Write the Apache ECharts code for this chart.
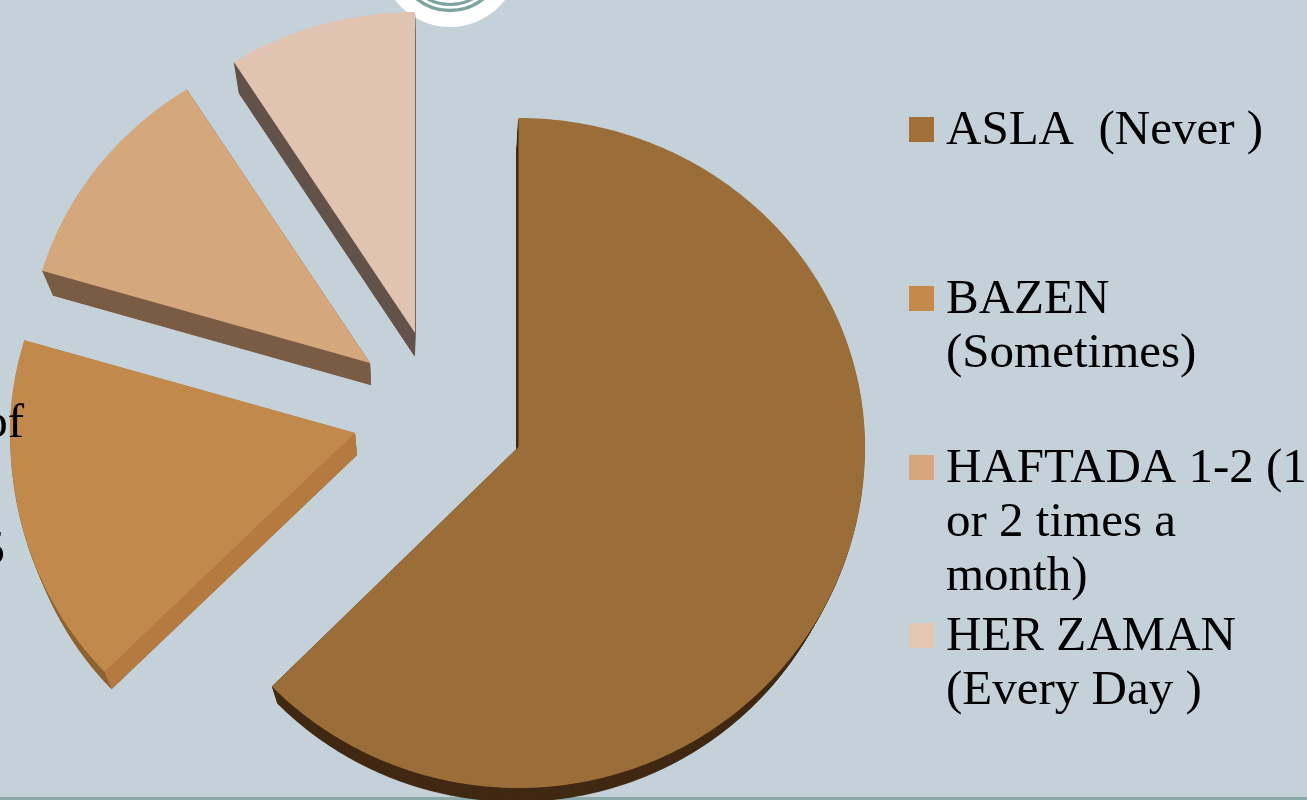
<!DOCTYPE html>
<html>
<head>
<meta charset="utf-8">
<style>html,body{margin:0;padding:0;background:#c5d1d8;overflow:hidden}#c{width:1307px;height:800px}</style>
<script src="https://cdn.jsdelivr.net/npm/echarts@6/dist/echarts.min.js"></script>
</head>
<body>
<div id="c"></div>
<script>
const categories = ['ASLA  (Never )', 'BAZEN\n(Sometimes)', 'HAFTADA 1-2 (1\nor 2 times a\nmonth)', 'HER ZAMAN\n(Every Day )'];
const values = [62.6, 17, 11.4, 9];
const faceColors = ['#9b6d38', '#c1894b', '#d5a77d', '#e0c3b0'];
const sideColors = ['#412a14', '#b57a40', '#7a5b43', '#63524a'];
const rimColors = ['#412a14', '#8f6230', '#7a5b43', '#63524a'];
const swatchColors = ['#a36f38', '#c58a4a', '#d6a67c', '#e2c5b2'];
// exploded 3D layout: apex, radii (x, up, down, x toward lower rim), extrusion shift and taper
const apexes = [[518.5,447],[355,433],[370,363],[415,333]];
const radii = [[346.5,329,341,346.5],[345,325,340,352],[342,324,324,342],[338,321,321,338]];
const shifts = [[-2,24],[2,22],[1,22],[-0.5,23]];
const tapers = [0.97,0.98,0.97,0.97];
const legendY = [129.5, 298.5, 467.5, 635.5];

const total = values.reduce((a,b)=>a+b,0);
function sweep(i){
  let s=0; for(let k=0;k<i;k++) s+=values[k];
  return [s/total*Math.PI*2,(s+values[i])/total*Math.PI*2];
}
function outline(i,scale,dx,dy){
  const [a0,a1]=sweep(i),[ax,ay]=apexes[i],[rx,ru,rd,rxd]=radii[i];
  const pts=[[ax+dx,ay+dy]];
  const n=Math.ceil((a1-a0)/0.01);
  for(let k=0;k<=n;k++){
    const a=a0+(a1-a0)*k/n,c=Math.cos(a);
    const r=rx+(rxd-rx)*(c<0?Math.min(1,2*c*c):0);
    pts.push([ax+dx+scale*r*Math.sin(a), ay+dy-scale*(c>0?ru:rd)*c]);
  }
  return pts;
}
const STEPS=24;
function renderSlice(params){
  const i=params.dataIndex,children=[];
  const [sx,sy]=shifts[i],taper=1-tapers[i];
  for(let t=STEPS;t>=1;t--){
    const f=t/STEPS;
    children.push({type:'polygon',shape:{points:outline(i,1-taper*f,sx*f,sy*f)},
      style:{fill:rimColors[i],stroke:rimColors[i],lineWidth:0.25}});
  }
  const top=outline(i,1,0,0),bot=outline(i,1-taper,sx,sy);
  [1,top.length-1].forEach(k=>{
    children.push({type:'polygon',shape:{points:[top[0],top[k],bot[k],bot[0]]},style:{fill:sideColors[i]}});
  });
  children.push({type:'polygon',shape:{points:top},style:{fill:faceColors[i]}});
  return {type:'group',children};
}
const graphic=[
  {type:'rect',z:-5,shape:{x:0,y:797,width:1307,height:3},style:{fill:'#8aa9a8'}},
  {type:'circle',z:-5,shape:{cx:450,cy:-42.5,r:69.5},style:{fill:'#ffffff'}},
  {type:'circle',z:-4,shape:{cx:450,cy:-42.5,r:53},style:{fill:'none',stroke:'#7da3a0',lineWidth:3.5}},
  {type:'circle',z:-4,shape:{cx:450,cy:-42.5,r:47},style:{fill:'none',stroke:'#7da3a0',lineWidth:3}},
  {type:'text',z:20,style:{x:24,y:449,text:'of',textAlign:'right',textVerticalAlign:'bottom',font:'49px "Liberation Serif"',fill:'#000'}},
  {type:'text',z:20,style:{x:5,y:576,text:'5',textAlign:'right',textVerticalAlign:'bottom',font:'49px "Liberation Serif"',fill:'#000'}}
];
categories.forEach((name,i)=>{
  graphic.push({type:'rect',z:10,shape:{x:909,y:legendY[i]-12.5,width:25,height:25},style:{fill:swatchColors[i]}});
  graphic.push({type:'text',z:10,style:{x:946,y:legendY[i]-25,text:name,font:'49px "Liberation Serif"',lineHeight:54,fill:'#000',textVerticalAlign:'top'}});
});
const chart=echarts.init(document.getElementById('c'));
chart.setOption({
  animation:false,
  backgroundColor:'#c5d1d8',
  graphic,
  series:[{type:'custom',coordinateSystem:'none',renderItem:renderSlice,silent:true,
    data:values.map((v,i)=>({name:categories[i],value:v}))}]
});
</script>
</body>
</html>
